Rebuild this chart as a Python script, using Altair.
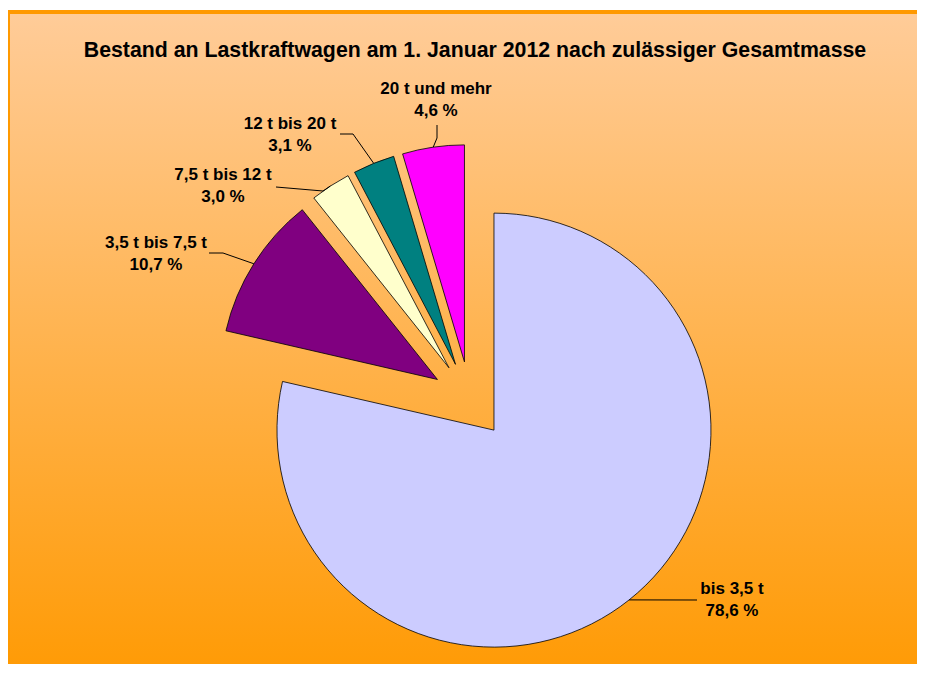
import altair as alt
import pandas as pd

# ---- data ----
categories = ["bis 3,5 t", "3,5 t bis 7,5 t", "7,5 t bis 12 t", "12 t bis 20 t", "20 t und mehr"]
shares = [78.6, 10.7, 3.0, 3.1, 4.6]
colors = ["#CCCCFF", "#800080", "#FFFFCC", "#008080", "#FF00FF"]
title_text = "Bestand an Lastkraftwagen am 1. Januar 2012 nach zulässiger Gesamtmasse"

# ---- layout (pixels in the chart) ----
W, H = 909, 656
CX, CY = 462, 392
R = 217
EXPLODE = 38.5
label_x = [724, 148, 215, 282, 428]
label_y = [580.5, 234.5, 167, 116, 81]
leader_x = [689, 201, 268, 332, 429]
leader_y = [592, 245, 179, 126, 117]
elbow_x = [689, 215, 315, 345, 429]
elbow_y = [592, 245, 183, 126, 130]

df = pd.DataFrame({
    "cat": categories,
    "share": shares,
    "color": colors,
    "order": list(range(len(categories))),
    "tx": label_x,
    "ty": label_y,
    "lx": leader_x,
    "ly": leader_y,
    "kx": elbow_x,
    "ky": elbow_y,
})

base = alt.Chart(df).transform_window(
    cum="sum(share)", sort=[alt.SortField("order")], frame=[None, 0]
).transform_calculate(
    a0="(datum.cum - datum.share) / 100 * 2 * PI",
    a1="datum.cum / 100 * 2 * PI",
    mid="(datum.a0 + datum.a1) / 2",
    cx=f"{CX} + {EXPLODE} * sin(datum.mid)",
    cy=f"{CY} - {EXPLODE} * cos(datum.mid)",
    ex=f"datum.cx + {R} * sin(datum.mid)",
    ey=f"datum.cy - {R} * cos(datum.mid)",
    txt="datum.cat + '\\n' + replace(format(datum.share, '.1f'), '.', ',') + ' %'",
)

grad = alt.Gradient(
    gradient="linear",
    stops=[alt.GradientStop(color="#FFCC99", offset=0),
           alt.GradientStop(color="#FF9900", offset=1)],
    x1=0, x2=0, y1=0, y2=1,
)

bg = alt.Chart(pd.DataFrame({"a": [0]})).mark_rect(
    fill=grad, stroke="#FF9900", strokeWidth=4
).encode(
    x=alt.value(0), x2=alt.value(W + 20), y=alt.value(4), y2=alt.value(H + 30)
)

arcs = base.mark_arc(radius=R, stroke="black", strokeWidth=0.8).encode(
    x=alt.X("cx:Q", scale=None, axis=None),
    y=alt.Y("cy:Q", scale=None, axis=None),
    theta=alt.Theta("a0:Q", scale=None),
    theta2="a1:Q",
    fill=alt.Fill("color:N", scale=None),
)

seg1 = base.mark_rule(color="black", strokeWidth=1).encode(
    x=alt.X("lx:Q", scale=None, axis=None),
    y=alt.Y("ly:Q", scale=None, axis=None),
    x2="kx:Q",
    y2="ky:Q",
)

seg2 = base.mark_rule(color="black", strokeWidth=1).encode(
    x=alt.X("kx:Q", scale=None, axis=None),
    y=alt.Y("ky:Q", scale=None, axis=None),
    x2="ex:Q",
    y2="ey:Q",
)

labels = base.mark_text(
    font="Liberation Sans", fontWeight="bold", fontSize=17, lineBreak="\n",
    lineHeight=22, align="center", baseline="middle", color="black"
).encode(
    x=alt.X("tx:Q", scale=None, axis=None),
    y=alt.Y("ty:Q", scale=None, axis=None),
    text="txt:N",
)

title = alt.Chart(pd.DataFrame({"a": [0]})).mark_text(
    text=title_text, font="Liberation Sans", fontWeight="bold", fontSize=21.3,
    align="center", baseline="middle", color="black"
).encode(x=alt.value(467), y=alt.value(42.5))

chart = alt.layer(bg, arcs, seg1, seg2, labels, title).properties(
    width=W, height=H, background="white", padding=0, autosize="none"
).configure_view(stroke=None)

chart.save("out.html", embed_options={"renderer": "svg", "actions": False})
